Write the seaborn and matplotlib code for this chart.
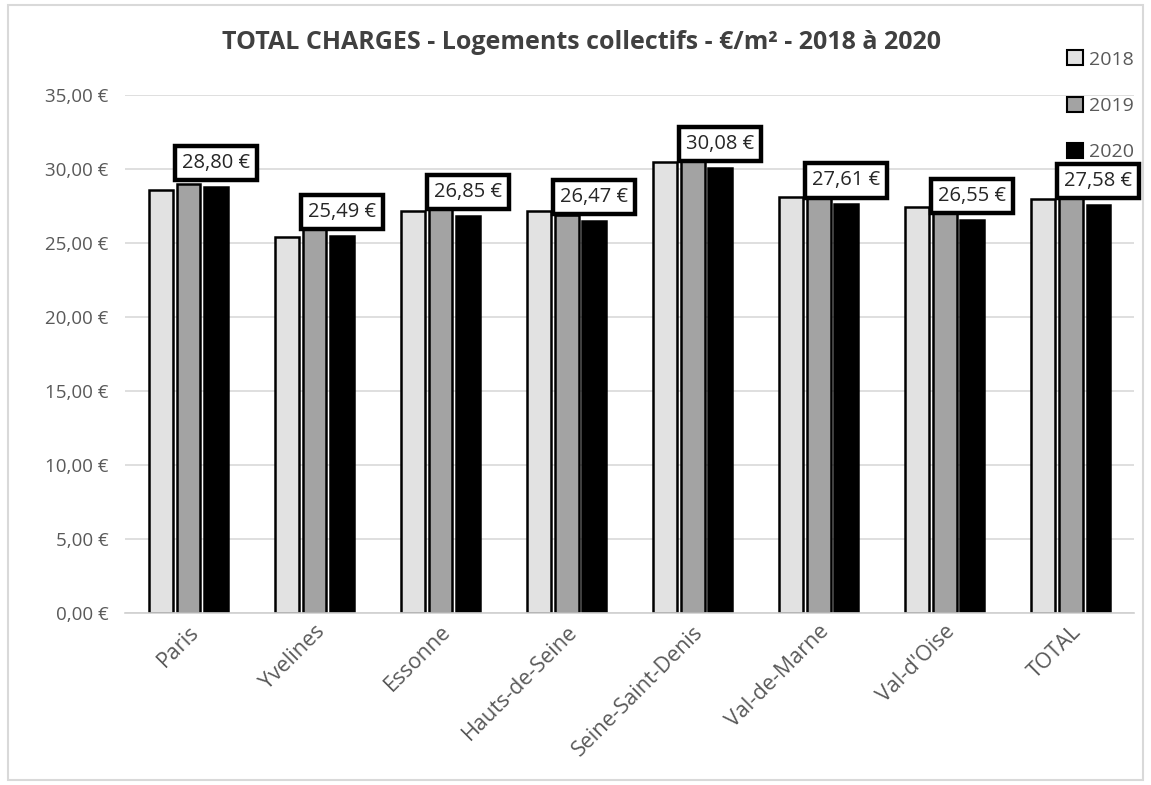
import pandas as pd
import matplotlib.pyplot as plt
import matplotlib.patches as patches
import seaborn as sns

departements = ['Paris', 'Yvelines', 'Essonne', 'Hauts-de-Seine', 'Seine-Saint-Denis',
                'Val-de-Marne', "Val-d'Oise", 'TOTAL']
annees = ['2018', '2019', '2020']
v2018 = [28.58, 25.40, 27.16, 27.16, 30.47, 28.10, 27.43, 27.97]
v2019 = [28.99, 26.00, 27.40, 26.90, 30.90, 28.30, 27.30, 28.30]
v2020 = [28.80, 25.49, 26.85, 26.47, 30.08, 27.61, 26.55, 27.58]
yticks = [0, 5, 10, 15, 20, 25, 30, 35]

dados = pd.DataFrame({
    'departement': departements * 3,
    'annee': ['2018'] * 8 + ['2019'] * 8 + ['2020'] * 8,
    'valeur': v2018 + v2019 + v2020,
})

sns.set_style('white')
plt.rcParams['font.family'] = ['Open Sans', 'DejaVu Sans']

fig, ax = plt.subplots(figsize=(11.51, 7.85), dpi=100)
fig.subplots_adjust(left=0.109, right=0.985, top=0.879, bottom=0.219)

couleurs = {'2018': '#e2e2e2', '2019': '#a3a3a3', '2020': '#000000'}
sns.barplot(data=dados, x='departement', y='valeur', hue='annee', hue_order=annees,
            palette=couleurs, width=0.66, gap=0.14, edgecolor='black', linewidth=1.8,
            ax=ax, legend=False)

ax.set_ylim(0, 35)
ax.set_xlim(-0.5, len(departements) - 0.5)
ax.set_yticks(yticks)
ax.set_yticklabels([f'{t:.2f} €'.replace('.', ',') for t in yticks], color='#595959', fontsize=13.5)
ax.tick_params(axis='y', length=0, pad=12)
ax.tick_params(axis='x', length=0, pad=6)
ax.set_xticks(range(len(departements)))
ax.set_xticklabels(departements, rotation=45, ha='right', rotation_mode='anchor',
                   color='#595959', fontsize=15.5)
ax.set_xlabel('')
ax.set_ylabel('')
ax.yaxis.grid(True, color='#d9d9d9', linewidth=1.2)
ax.set_axisbelow(True)
for s in ['top', 'right', 'left']:
    ax.spines[s].set_visible(False)
ax.spines['bottom'].set_color('#d0d0d0')
ax.spines['bottom'].set_linewidth(1.2)

# etiquettes des valeurs 2020
for barre, val in zip(ax.containers[2], v2020):
    x = barre.get_x() + barre.get_width() / 2
    ax.annotate(f'{val:.2f} €'.replace('.', ','), xy=(x, val), xytext=(0, 10),
                textcoords='offset points', ha='center', va='bottom', fontsize=14.5,
                color='#262626',
                bbox=dict(boxstyle='square,pad=0.35', fc='white', ec='black', lw=3.2))

fig.suptitle('TOTAL CHARGES - Logements collectifs - €/m² - 2018 à 2020',
             x=0.505, y=0.962, fontsize=18, fontweight='bold', color='#404040')

poignees = [patches.Patch(facecolor=couleurs[a], edgecolor='black', linewidth=1.5) for a in annees]
fig.legend(poignees, annees, loc='upper left', bbox_to_anchor=(0.912, 0.958),
           frameon=False, fontsize=14, labelspacing=1.45, handlelength=0.8,
           handleheight=0.8, handletextpad=0.3, labelcolor='#595959')

fig.patches.append(patches.Rectangle((0.007, 0.007), 0.986, 0.986, transform=fig.transFigure,
                                     fill=False, edgecolor='#d9d9d9', linewidth=1.5))

fig.savefig('out.png', dpi=100)
